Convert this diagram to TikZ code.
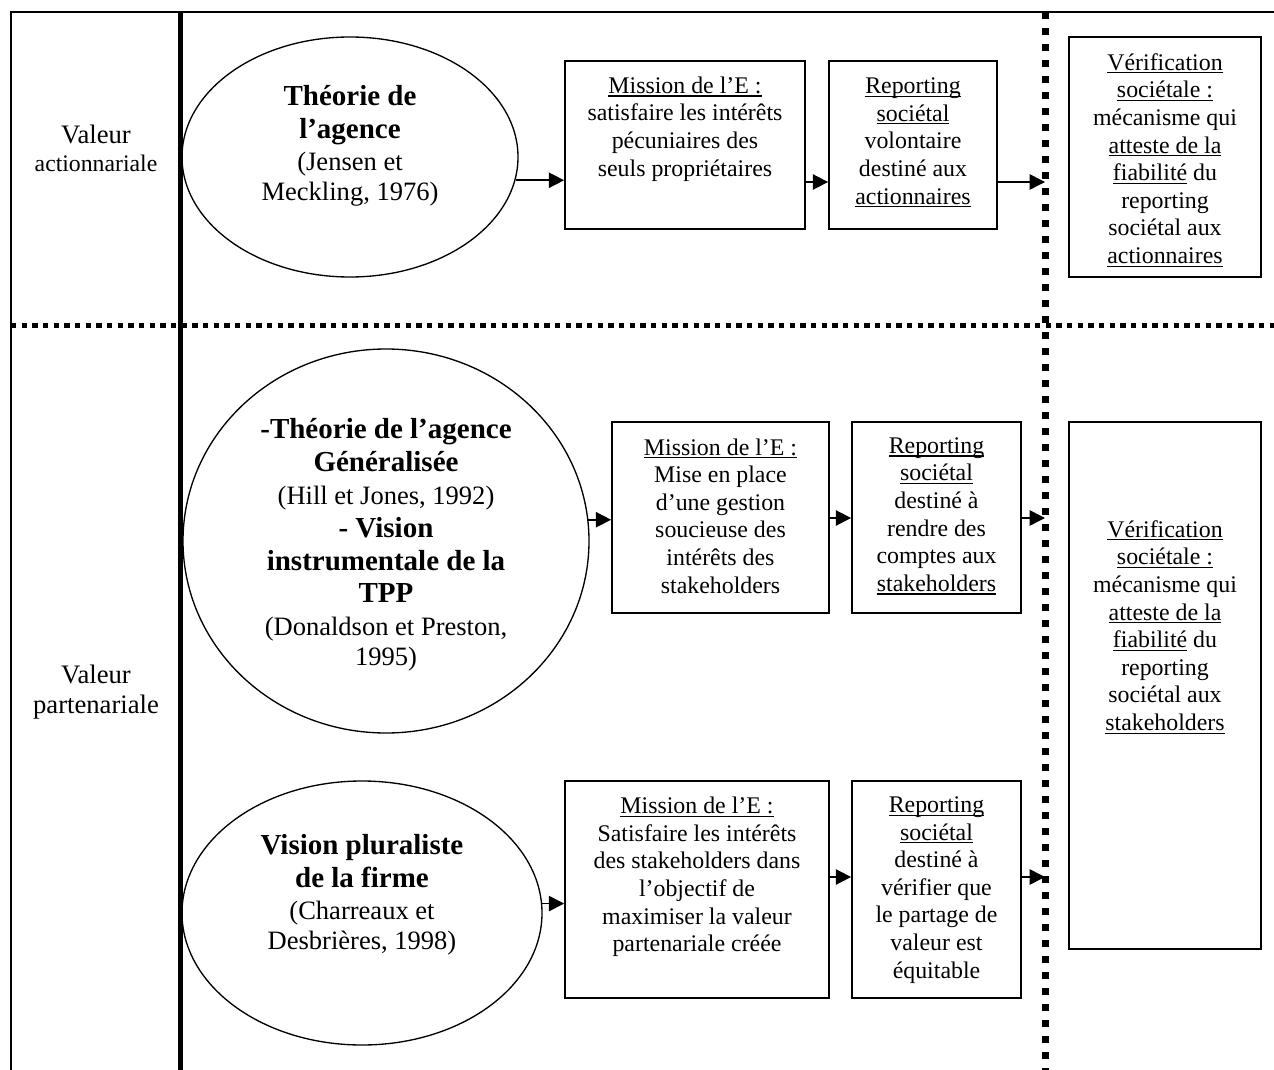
\documentclass[tikz,border=0pt]{standalone}
\usepackage{fontspec}
\setmainfont{Liberation Serif}
\usetikzlibrary{arrows.meta,shapes.geometric}
\newcommand{\ulx}[1]{\setbox0\hbox{#1}\rlap{\rule[-2.4pt]{\wd0}{0.8pt}}\box0\relax}
\newcommand{\bt}[1]{{\bfseries\fontsize{21.75}{24}\selectfont #1}}
\newcommand{\smx}[1]{{\fontsize{17.8}{20.7}\selectfont #1}}
\begin{document}
\begin{tikzpicture}[x=0.75pt,y=-0.75pt,
  frameline/.style={line width=1.1pt},
  thickline/.style={line width=3.75pt},
  hdots/.style={line width=3.75pt, dash pattern=on 3.9pt off 4.1pt},
  vdots/.style={line width=5.25pt, dash pattern=on 5.6pt off 6.4pt},
  ell/.style={draw, ellipse, line width=1pt, inner sep=0pt},
  boxn/.style={draw, rectangle, line width=1.3pt, inner sep=0pt},
  ttl/.style={align=center, font=\fontsize{19.9}{22.8}\selectfont, inner sep=0pt},
  txt/.style={align=center, font=\fontsize{17.9}{20.7}\selectfont, inner sep=0pt},
  lbl/.style={align=center, font=\fontsize{20}{22.5}\selectfont, inner sep=0pt},
  arr/.style={line width=1.15pt, -{Triangle[length=11.5pt,width=11.5pt]}},
]
\useasboundingbox (0,0) rectangle (1274,1070);

% frame and separators
\draw[frameline] (1274,12) -- (11,12) -- (11,1070);
\draw[thickline] (180.5,12) -- (180.5,1070);
\draw[hdots] (11,325) -- (1274,325);
\draw[vdots] (1045,12) -- (1045,1070);

% left labels
\node[lbl] (l1) at (96,148) {Valeur\\[-1.5pt]\smx{actionnariale}};
\node[lbl] (l2) at (96,692.5) {Valeur\\partenariale};

% row 1
\node[ell, minimum width=252pt, minimum height=180pt] (e1) at (350,157) {};
\node[ttl] (t1) at (350,146) {\bt{Théorie de}\\[1.5pt]\bt{l’agence}\\[1.5pt](Jensen et\\Meckling, 1976)};
\node[boxn, minimum width=180pt, minimum height=126pt] (m1) at (685,145) {};
\node[txt] (tm1) at (685,129) {\ulx{Mission de l’E :}\\satisfaire les intérêts\\pécuniaires des\\seuls propriétaires};
\node[boxn, minimum width=126pt, minimum height=126pt] (r1) at (913,145) {};
\node[txt] (tr1) at (913,142.5) {\ulx{Reporting}\\\ulx{sociétal}\\volontaire\\destiné aux\\\ulx{actionnaires}};
\node[boxn, minimum width=144pt, minimum height=180pt] (v1) at (1165,157) {};
\node[txt] (tv1) at (1165,160) {\ulx{Vérification}\\\ulx{sociétale :}\\mécanisme qui\\\ulx{atteste de la}\\\ulx{fiabilité} du\\reporting\\sociétal aux\\\ulx{actionnaires}};

% row 2
\node[ell, minimum width=304.5pt, minimum height=288pt] (e2) at (386,541) {};
\node[ttl] (t2) at (386,545) {\bt{-Théorie de l’agence}\\[2pt]\bt{Généralisée}\\[2pt](Hill et Jones, 1992)\\[1.5pt]\bt{- Vision}\\[2pt]\bt{instrumentale de la}\\[1pt]\bt{TPP}\\[2pt](Donaldson et Preston,\\1995)};
\node[boxn, minimum width=162.75pt, minimum height=143.25pt] (m2) at (720.5,517.5) {};
\node[txt] (tm2) at (720.5,516) {\ulx{Mission de l’E :}\\Mise en place\\d’une gestion\\soucieuse des\\intérêts des\\stakeholders};
\node[boxn, minimum width=126.75pt, minimum height=143.25pt] (r2) at (936.5,517.5) {};
\node[txt] (tr2) at (936.5,516) {\ulx{Reporting}\\\ulx{sociétal}\\destiné à\\rendre des\\comptes aux\\\ulx{stakeholders}};
\node[boxn, minimum width=144pt, minimum height=395.25pt] (v2) at (1165,685.5) {};
\node[txt] (tv2) at (1165,627) {\ulx{Vérification}\\\ulx{sociétale :}\\mécanisme qui\\\ulx{atteste de la}\\\ulx{fiabilité} du\\reporting\\sociétal aux\\\ulx{stakeholders}};

% row 3
\node[ell, minimum width=270pt, minimum height=198pt] (e3) at (362,913) {};
\node[ttl] (t3) at (362,895) {\bt{Vision pluraliste}\\[1.5pt]\bt{de la firme}\\[1.5pt](Charreaux et\\Desbrières, 1998)};
\node[boxn, minimum width=198pt, minimum height=162.75pt] (m3) at (697,889.5) {};
\node[txt] (tm3) at (697,877) {\ulx{Mission de l’E :}\\Satisfaire les intérêts\\des stakeholders dans\\l’objectif de\\maximiser la valeur\\partenariale créée};
\node[boxn, minimum width=126.75pt, minimum height=162.75pt] (r3) at (936.5,889.5) {};
\node[txt] (tr3) at (936.5,890) {\ulx{Reporting}\\\ulx{sociétal}\\destiné à\\vérifier que\\le partage de\\valeur est\\équitable};

% arrow targets on the dotted line
\coordinate (a1) at (1045,182);
\coordinate (a2) at (1045,518);
\coordinate (a3) at (1045,877);

% connectors
\draw[arr] (e1.-8.65) -- (e1.-8.65 -| m1.west);
\draw[arr] (m1.east |- a1) -- (r1.west |- a1);
\draw[arr] (r1.east |- a1) -- (a1);

\draw[arr] (e2.6.5) -- (e2.6.5 -| m2.west);
\draw[arr] (m2.east |- a2) -- (r2.west |- a2);
\draw[arr] (r2.east |- a2) -- (a2);

\draw[arr] (e3.3.5) -- (e3.3.5 -| m3.west);
\draw[arr] (m3.east |- a3) -- (r3.west |- a3);
\draw[arr] (r3.east |- a3) -- (a3);
\end{tikzpicture}
\end{document}
